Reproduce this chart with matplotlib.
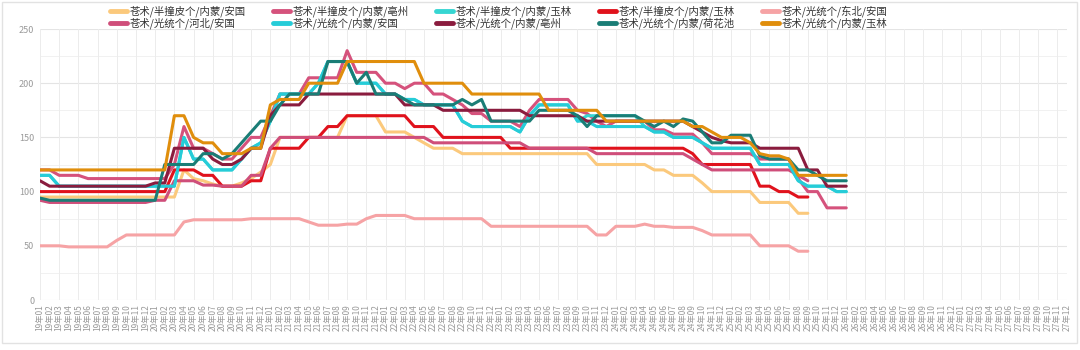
import matplotlib

matplotlib.use("Agg")

import matplotlib.pyplot as plt
import numpy as np
from matplotlib.patches import Rectangle

plt.rcParams["font.family"] = ["Noto Sans CJK SC", "DejaVu Sans"]

# x categories: monthly, 19年01 .. 27年12
MONTHS = [f"{y}年{m:02d}" for y in range(19, 28) for m in range(1, 13)]
N = None

# one row per year (19..26)
BZP_ANGUO = [
    95, 95, 95, 95, 95, 95, 95, 95, 95, 95, 95, 95,
    95, 95, 95, 120, 112, 110, 107, 105, 105, 108, 112, 118,
    125, 150, 150, 150, 150, 150, 150, 150, 170, 170, 170, 170,
    155, 155, 155, 150, 145, 140, 140, 140, 135, 135, 135, 135,
    135, 135, 135, 135, 135, 135, 135, 135, 135, 135, 125, 125,
    125, 125, 125, 125, 120, 120, 115, 115, 115, 108, 100, 100,
    100, 100, 100, 90, 90, 90, 90, 80, 80, N, N, N,
    N,
]
BZP_BOZHOU = [
    120, 120, 115, 115, 115, 112, 112, 112, 112, 112, 112, 112,
    112, 112, 125, 160, 140, 140, 135, 130, 130, 140, 150, 150,
    170, 190, 190, 190, 205, 205, 205, 205, 230, 210, 210, 210,
    200, 200, 195, 200, 200, 190, 190, 185, 180, 172, 172, 165,
    165, 165, 160, 175, 185, 185, 185, 185, 175, 172, 165, 160,
    165, 165, 165, 165, 157, 157, 153, 153, 153, 145, 135, 135,
    135, 135, 135, 130, 130, 130, 130, 112, 100, 100, 85, 85,
    85,
]
BZP_YULIN_A = [
    115, 115, 105, 105, 105, 105, 105, 105, 105, 105, 105, 105,
    105, 105, 105, 150, 130, 130, 120, 120, 120, 130, 140, 145,
    165, 190, 190, 190, 190, 200, 220, 220, 220, 200, 200, 200,
    190, 190, 185, 185, 180, 180, 180, 180, 165, 160, 160, 160,
    160, 160, 155, 170, 180, 180, 180, 180, 165, 170, 170, 170,
    170, 170, 170, 160, 155, 155, 150, 150, 150, 145, 140, 140,
    140, 140, 140, 125, 125, 125, 125, 110, 105, 105, 105, 100,
    100,
]
BZP_YULIN_B = [
    100, 100, 100, 100, 100, 100, 100, 100, 100, 100, 100, 100,
    100, 100, 120, 120, 120, 115, 115, 105, 105, 105, 110, 110,
    140, 140, 140, 140, 150, 150, 160, 160, 170, 170, 170, 170,
    170, 170, 170, 160, 160, 160, 150, 150, 150, 150, 150, 150,
    150, 140, 140, 140, 140, 140, 140, 140, 140, 140, 140, 140,
    140, 140, 140, 140, 140, 140, 140, 140, 135, 125, 125, 125,
    125, 125, 125, 105, 105, 100, 100, 95, 95, N, N, N,
    N,
]
GT_DONGBEI_ANGUO = [
    50, 50, 50, 49, 49, 49, 49, 49, 55, 60, 60, 60,
    60, 60, 60, 72, 74, 74, 74, 74, 74, 74, 75, 75,
    75, 75, 75, 75, 72, 69, 69, 69, 70, 70, 75, 78,
    78, 78, 78, 75, 75, 75, 75, 75, 75, 75, 75, 68,
    68, 68, 68, 68, 68, 68, 68, 68, 68, 68, 60, 60,
    68, 68, 68, 70, 68, 68, 67, 67, 67, 64, 60, 60,
    60, 60, 60, 50, 50, 50, 50, 45, 45, N, N, N,
    N,
]
GT_HEBEI_ANGUO = [
    92, 90, 90, 90, 90, 90, 90, 90, 90, 90, 90, 90,
    92, 92, 110, 110, 110, 106, 106, 105, 105, 105, 115, 115,
    140, 150, 150, 150, 150, 150, 150, 150, 150, 150, 150, 150,
    150, 150, 150, 150, 150, 145, 145, 145, 145, 145, 145, 145,
    145, 145, 145, 140, 140, 140, 140, 140, 140, 140, 135, 135,
    135, 135, 135, 135, 135, 135, 135, 135, 130, 125, 120, 120,
    120, 120, 120, 120, 120, 120, 120, 115, 110, N, N, N,
    N,
]
GT_NEIMENG_ANGUO = [
    115, 115, 105, 105, 105, 105, 105, 105, 105, 105, 105, 105,
    105, 105, 105, 150, 130, 130, 120, 120, 120, 130, 140, 145,
    165, 190, 190, 190, 190, 200, 220, 220, 220, 200, 200, 200,
    190, 190, 185, 185, 180, 180, 180, 180, 165, 160, 160, 160,
    160, 160, 155, 170, 180, 180, 180, 180, 165, 165, 160, 160,
    160, 160, 160, 160, 155, 155, 150, 150, 150, 145, 140, 140,
    140, 140, 140, 125, 125, 125, 125, 110, 105, 105, 105, 100,
    100,
]
GT_BOZHOU = [
    110, 105, 105, 105, 105, 105, 105, 105, 105, 105, 105, 105,
    108, 108, 140, 140, 140, 140, 130, 125, 125, 130, 140, 140,
    170, 180, 180, 180, 190, 190, 190, 190, 190, 190, 190, 190,
    190, 190, 180, 180, 180, 180, 175, 175, 175, 175, 175, 175,
    175, 175, 175, 170, 170, 170, 170, 170, 170, 165, 165, 165,
    165, 165, 165, 165, 165, 165, 165, 165, 160, 155, 150, 147,
    145, 145, 145, 140, 140, 140, 140, 140, 120, 120, 105, 105,
    105,
]
GT_HEHUACHI = [
    94, 92, 92, 92, 92, 92, 92, 92, 92, 92, 92, 92,
    92, 125, 125, 125, 125, 135, 135, 130, 135, 145, 155, 165,
    165, 180, 190, 190, 190, 190, 220, 220, 220, 200, 210, 190,
    190, 190, 185, 180, 180, 180, 180, 180, 185, 180, 185, 165,
    165, 165, 165, 165, 175, 175, 175, 175, 170, 160, 170, 170,
    170, 170, 170, 165, 160, 165, 160, 167, 165, 155, 145, 145,
    152, 152, 152, 133, 130, 130, 130, 120, 120, 115, 110, 110,
    110,
]
GT_YULIN = [
    120, 120, 120, 120, 120, 120, 120, 120, 120, 120, 120, 120,
    120, 120, 170, 170, 150, 145, 145, 135, 135, 135, 140, 140,
    180, 185, 185, 185, 200, 200, 200, 200, 220, 220, 220, 220,
    220, 220, 220, 220, 200, 200, 200, 200, 200, 190, 190, 190,
    190, 190, 190, 190, 190, 175, 175, 175, 175, 175, 175, 165,
    165, 165, 165, 165, 165, 165, 165, 165, 160, 160, 155, 150,
    150, 150, 145, 135, 133, 133, 130, 115, 115, 115, 115, 115,
    115,
]

SERIES = [
    ("苍术/半撞皮个/内蒙/安国", BZP_ANGUO, "#fbc97c"),
    ("苍术/半撞皮个/内蒙/亳州", BZP_BOZHOU, "#d5527c"),
    ("苍术/半撞皮个/内蒙/玉林", BZP_YULIN_A, "#36d6d2"),
    ("苍术/半撞皮个/内蒙/玉林", BZP_YULIN_B, "#e0121c"),
    ("苍术/光统个/东北/安国", GT_DONGBEI_ANGUO, "#f6a3a5"),
    ("苍术/光统个/河北/安国", GT_HEBEI_ANGUO, "#cf4e7a"),
    ("苍术/光统个/内蒙/安国", GT_NEIMENG_ANGUO, "#26ccd8"),
    ("苍术/光统个/内蒙/亳州", GT_BOZHOU, "#8a1c3e"),
    ("苍术/光统个/内蒙/荷花池", GT_HEHUACHI, "#1a7d76"),
    ("苍术/光统个/内蒙/玉林", GT_YULIN, "#e08e0c"),
]

W, H = 1080, 350
fig = plt.figure(figsize=(W / 100, H / 100), dpi=100)
ax = fig.add_axes([40 / W, 50 / H, 1027 / W, 271 / H])

handles = []
for name, vals, color in SERIES:
    y = np.array([np.nan if v is None else v for v in vals], dtype=float)
    (ln,) = ax.plot(np.arange(len(y)), y, color=color, lw=2.2,
                    solid_joinstyle="round", solid_capstyle="round", label=name)
    handles.append(ln)

ax.set_xlim(0, len(MONTHS) - 1)
ax.set_ylim(0, 250)
ax.set_xticks(np.arange(len(MONTHS)))
ax.set_xticklabels(MONTHS, rotation=90, fontsize=6, color="#9a9a9a")
ax.set_yticks(np.arange(0, 251, 50))
ax.tick_params(axis="y", labelsize=6.5, labelcolor="#9a9a9a", length=0, pad=4)
ax.tick_params(axis="x", length=0, pad=3)

for v in range(0, 251, 50):
    ax.axhline(v, color="#e4e4e4", lw=0.8, zorder=0)
for v in range(25, 250, 50):
    ax.axhline(v, color="#f1f1f1", lw=0.7, zorder=0)
for i in range(0, len(MONTHS), 2):
    ax.axvline(i, color="#ececec", lw=0.7, zorder=0)
for s in ax.spines.values():
    s.set_visible(False)

# legend fills column by column, so interleave to get the two rows right
order = [0, 5, 1, 6, 2, 7, 3, 8, 4, 9]
leg = fig.legend(handles=[handles[k] for k in order], loc="upper left",
                 bbox_to_anchor=(110 / W, 1 - 5 / H), ncol=5, frameon=False,
                 fontsize=7.5, handlelength=1.6, handleheight=0.5,
                 handletextpad=0.3, columnspacing=2.6, labelspacing=0.05,
                 borderpad=0, borderaxespad=0, labelcolor="#333333")
for h in leg.legend_handles:
    h.set_linewidth(3.5)

fig.patches.append(Rectangle((2 / W, 7 / H), 1075 / W, 341 / H, transform=fig.transFigure,
                             fill=False, edgecolor="#e2e2e2", lw=1.0))

fig.savefig("out.png", dpi=100)
